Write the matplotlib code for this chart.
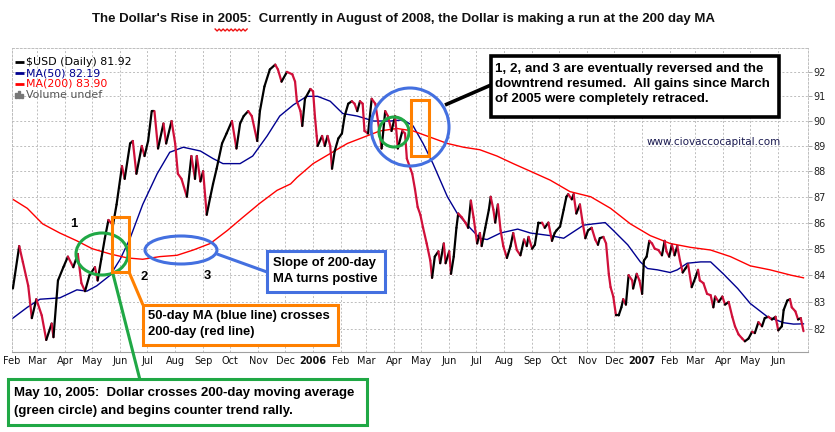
import matplotlib
matplotlib.use("Agg")
import numpy as np
import pandas as pd
import matplotlib.pyplot as plt
import matplotlib.dates as mdates
from matplotlib.collections import LineCollection
from matplotlib.patches import Ellipse, Rectangle
from matplotlib.lines import Line2D
from matplotlib.ticker import FixedLocator, NullLocator, FormatStrFormatter

# $USD daily close
price_dates = [
    "2005-02-02", "2005-02-09", "2005-02-13", "2005-02-19", "2005-02-23", "2005-02-28",
    "2005-03-06", "2005-03-11", "2005-03-17", "2005-03-19", "2005-03-24", "2005-03-30",
    "2005-04-04", "2005-04-10", "2005-04-15", "2005-04-19", "2005-04-23", "2005-04-28",
    "2005-05-04", "2005-05-07", "2005-05-11", "2005-05-15", "2005-05-19", "2005-05-24",
    "2005-05-28", "2005-06-03", "2005-06-06", "2005-06-12", "2005-06-15", "2005-06-19",
    "2005-06-25", "2005-06-28", "2005-07-02", "2005-07-06", "2005-07-09", "2005-07-13",
    "2005-07-19", "2005-07-22", "2005-07-28", "2005-08-01", "2005-08-04", "2005-08-08",
    "2005-08-14", "2005-08-19", "2005-08-23", "2005-08-25", "2005-08-29", "2005-09-01",
    "2005-09-05", "2005-09-09", "2005-09-12", "2005-09-16", "2005-09-22", "2005-09-27",
    "2005-10-03", "2005-10-08", "2005-10-12", "2005-10-16", "2005-10-21", "2005-10-25",
    "2005-10-31", "2005-11-03", "2005-11-08", "2005-11-14", "2005-11-20", "2005-11-23",
    "2005-11-27", "2005-12-03", "2005-12-09", "2005-12-12", "2005-12-14", "2005-12-18",
    "2005-12-20", "2005-12-23", "2005-12-29", "2006-01-01", "2006-01-03", "2006-01-05",
    "2006-01-06", "2006-01-11", "2006-01-14", "2006-01-17", "2006-01-20", "2006-01-22",
    "2006-01-25", "2006-01-29", "2006-02-02", "2006-02-05", "2006-02-09", "2006-02-13",
    "2006-02-16", "2006-02-19", "2006-02-22", "2006-02-25", "2006-02-27", "2006-03-03",
    "2006-03-07", "2006-03-11", "2006-03-14", "2006-03-18", "2006-03-22", "2006-03-25",
    "2006-03-29", "2006-04-02", "2006-04-05", "2006-04-10", "2006-04-13", "2006-04-15",
    "2006-04-21", "2006-04-24", "2006-04-27", "2006-04-30", "2006-05-03", "2006-05-07",
    "2006-05-11", "2006-05-13", "2006-05-16", "2006-05-20", "2006-05-22", "2006-05-26",
    "2006-05-28", "2006-06-01", "2006-06-03", "2006-06-06", "2006-06-09", "2006-06-11",
    "2006-06-15", "2006-06-19", "2006-06-22", "2006-06-25", "2006-06-28", "2006-07-02",
    "2006-07-05", "2006-07-07", "2006-07-11", "2006-07-15", "2006-07-17", "2006-07-20",
    "2006-07-22", "2006-07-25", "2006-07-28", "2006-07-31", "2006-08-04", "2006-08-08",
    "2006-08-11", "2006-08-15", "2006-08-19", "2006-08-23", "2006-08-26", "2006-08-28",
    "2006-09-01", "2006-09-04", "2006-09-08", "2006-09-12", "2006-09-15", "2006-09-19",
    "2006-09-23", "2006-09-26", "2006-09-28", "2006-10-02", "2006-10-06", "2006-10-09",
    "2006-10-11", "2006-10-15", "2006-10-17", "2006-10-20", "2006-10-24", "2006-10-27",
    "2006-10-30", "2006-11-02", "2006-11-06", "2006-11-10", "2006-11-13", "2006-11-15",
    "2006-11-19", "2006-11-22", "2006-11-25", "2006-11-27", "2006-11-30", "2006-12-03",
    "2006-12-06", "2006-12-09", "2006-12-11", "2006-12-14", "2006-12-17", "2006-12-21",
    "2006-12-22", "2006-12-26", "2006-12-29", "2007-01-01", "2007-01-03", "2007-01-06",
    "2007-01-09", "2007-01-12", "2007-01-15", "2007-01-19", "2007-01-23", "2007-01-26",
    "2007-01-28", "2007-01-31", "2007-02-03", "2007-02-06", "2007-02-09", "2007-02-12",
    "2007-02-15", "2007-02-18", "2007-02-21", "2007-02-25", "2007-03-01", "2007-03-04",
    "2007-03-06", "2007-03-10", "2007-03-14", "2007-03-18", "2007-03-21", "2007-03-23",
    "2007-03-27", "2007-03-31", "2007-04-03", "2007-04-07", "2007-04-11", "2007-04-14",
    "2007-04-18", "2007-04-22", "2007-04-25", "2007-04-29", "2007-05-03", "2007-05-06",
    "2007-05-10", "2007-05-14", "2007-05-17", "2007-05-21", "2007-05-25", "2007-05-29",
    "2007-06-01", "2007-06-05", "2007-06-07", "2007-06-11", "2007-06-14", "2007-06-16",
    "2007-06-20", "2007-06-23", "2007-06-26", "2007-06-29",
]
price_vals = [
    83.5, 85.1, 84.5, 83.6, 82.4, 83.1,
    82.5, 81.6, 82.2, 81.7, 83.8, 84.3,
    84.7, 84.3, 84.8, 83.7, 83.4, 84.0,
    84.3, 83.8, 84.6, 85.4, 86.1, 85.9,
    86.7, 88.2, 87.7, 89.1, 89.2, 87.9,
    89.0, 88.6, 89.2, 90.4, 90.4, 88.9,
    89.9, 89.1, 90.0, 89.1, 87.9, 87.7,
    87.0, 88.6, 87.7, 88.6, 87.6, 88.0,
    86.3, 87.0, 87.5, 88.1, 89.1, 89.5,
    90.0, 88.9, 89.9, 90.2, 90.4, 90.2,
    89.2, 90.4, 91.4, 92.1, 92.3, 92.1,
    91.6, 92.0, 91.9, 91.6, 90.8, 90.4,
    89.8, 90.9, 91.3, 91.2, 90.2, 89.4,
    89.0, 89.4, 89.0, 89.4, 89.0, 88.1,
    88.8, 89.3, 89.5, 90.2, 90.7, 90.8,
    90.7, 90.4, 90.8, 90.7, 89.6, 89.5,
    90.9, 90.7, 90.0, 88.9, 90.4, 90.2,
    89.6, 90.2, 88.9, 89.6, 89.5, 88.5,
    87.9, 87.3, 86.6, 86.3, 85.8, 85.2,
    84.55, 83.9, 84.7, 84.9, 84.45, 85.2,
    84.45, 84.9, 84.05, 84.7, 85.8, 86.35,
    86.2, 86.0, 85.8, 86.85, 86.2, 85.2,
    85.6, 85.1, 85.8, 86.5, 87.0, 86.5,
    86.0, 86.7, 85.7, 85.1, 84.65, 85.1,
    85.6, 84.95, 84.75, 85.35, 85.1, 85.45,
    85.0, 85.15, 86.0, 86.0, 85.8, 86.0,
    85.3, 85.6, 85.7, 85.85, 86.5, 87.0,
    87.1, 86.9, 87.1, 86.35, 86.7, 86.0,
    85.4, 85.7, 85.8, 85.35, 85.15, 85.4,
    85.45, 85.2, 84.05, 83.55, 83.2, 82.5,
    82.5, 82.8, 83.1, 82.9, 84.0, 83.8,
    83.5, 84.05, 83.8, 83.3, 84.55, 84.7,
    85.3, 85.2, 85.0, 84.95, 84.75, 85.3,
    84.9, 84.7, 85.15, 84.75, 85.1, 84.55,
    84.1, 84.25, 84.4, 83.55, 83.9, 84.2,
    83.8, 83.7, 83.3, 83.25, 82.8, 83.2,
    83.0, 83.2, 82.9, 83.0, 82.45, 82.1,
    81.8, 81.65, 81.55, 81.65, 81.9, 81.85,
    82.25, 82.1, 82.4, 82.45, 82.35, 82.45,
    81.95, 82.1, 82.7, 83.05, 83.1, 82.8,
    82.65, 82.35, 82.4, 81.92,
]

ma50_dates = [
    "2005-02-02", "2005-02-18", "2005-03-04", "2005-03-26", "2005-04-14", "2005-04-25",
    "2005-05-06", "2005-05-21", "2005-06-01", "2005-06-12", "2005-06-26", "2005-07-12",
    "2005-07-26", "2005-08-10", "2005-08-29", "2005-09-12", "2005-09-23", "2005-10-12",
    "2005-10-26", "2005-11-11", "2005-11-25", "2005-12-10", "2005-12-25", "2006-01-06",
    "2006-01-20", "2006-02-03", "2006-02-19", "2006-03-09", "2006-03-28", "2006-04-11",
    "2006-04-22", "2006-05-03", "2006-05-14", "2006-05-30", "2006-06-10", "2006-06-24",
    "2006-07-05", "2006-07-13", "2006-07-28", "2006-08-16", "2006-08-30", "2006-09-21",
    "2006-10-06", "2006-10-17", "2006-10-28", "2006-11-08", "2006-11-21", "2006-11-30",
    "2006-12-16", "2006-12-30", "2007-01-07", "2007-01-18", "2007-02-01", "2007-02-09",
    "2007-02-20", "2007-03-07", "2007-03-18", "2007-04-01", "2007-04-17", "2007-05-01",
    "2007-05-20", "2007-06-07", "2007-06-18", "2007-06-29",
]
ma50_vals = [
    82.4, 82.8, 83.1, 83.15, 83.45, 83.4,
    83.6, 84.0, 84.6, 85.4, 86.7, 87.9,
    88.75, 88.95, 88.8, 88.5, 88.3, 88.3,
    88.6, 89.4, 90.2, 90.65, 91.0, 91.0,
    90.8, 90.3, 90.2, 90.0, 90.0, 90.05,
    89.8, 89.1, 88.3, 87.0, 86.35, 85.8,
    85.4, 85.35, 85.6, 85.75, 85.6, 85.5,
    85.4, 85.65, 85.9, 85.95, 86.0, 85.7,
    85.15, 84.5, 84.25, 84.2, 84.1, 84.2,
    84.45, 84.5, 84.5, 84.05, 83.5, 82.94,
    82.45, 82.23, 82.18, 82.19,
]

ma200_dates = [
    "2005-02-02", "2005-02-18", "2005-03-07", "2005-03-26", "2005-04-14", "2005-05-01",
    "2005-05-21", "2005-06-09", "2005-06-26", "2005-07-15", "2005-08-03", "2005-08-21",
    "2005-09-09", "2005-09-28", "2005-10-15", "2005-11-03", "2005-11-22", "2005-12-07",
    "2005-12-14", "2006-01-01", "2006-01-20", "2006-02-08", "2006-02-26", "2006-03-16",
    "2006-04-04", "2006-04-22", "2006-05-11", "2006-05-30", "2006-06-17", "2006-07-05",
    "2006-07-24", "2006-08-11", "2006-08-30", "2006-09-21", "2006-10-13", "2006-11-05",
    "2006-11-27", "2006-12-19", "2007-01-10", "2007-02-01", "2007-02-24", "2007-03-18",
    "2007-04-09", "2007-05-01", "2007-05-23", "2007-06-15", "2007-06-29",
]
ma200_vals = [
    86.9, 86.55, 85.95, 85.6, 85.3, 85.0,
    84.8, 84.65, 84.6, 84.7, 84.75, 84.95,
    85.2, 85.7, 86.2, 86.75, 87.25, 87.5,
    87.75, 88.3, 88.7, 89.1, 89.35, 89.6,
    89.7, 89.6, 89.35, 89.1, 88.95, 88.85,
    88.6, 88.3, 88.0, 87.65, 87.2, 87.0,
    86.55, 85.95, 85.5, 85.2, 85.05, 84.95,
    84.7, 84.35, 84.2, 84.0, 83.9,
]

y_ticks = list(range(82, 93))

title = ("The Dollar's Rise in 2005:  Currently in August of 2008, "
         "the Dollar is making a run at the 200 day MA")

W, H = 835, 432
UP, DOWN = "black", "#d0103a"
BLUE_NOTE, GREEN_NOTE, ORANGE_NOTE = "#4470e0", "#20a845", "#ff8000"
NOTE_FONT = "Liberation Sans"
NOTE_SIZE = 9.4

fig = plt.figure(figsize=(W / 100, H / 100), dpi=100)
ax = fig.add_axes([12 / W, 1 - 352 / H, 796 / W, 304 / H])
ax.set_yscale("log")

# price line, black on up days and red on down days
px_dates = mdates.date2num(pd.to_datetime(price_dates))
pts = np.column_stack([px_dates, price_vals])
segs = np.stack([pts[:-1], pts[1:]], axis=1)
seg_colors = [UP if b >= a else DOWN for a, b in zip(price_vals[:-1], price_vals[1:])]
ax.add_collection(LineCollection(segs, colors=seg_colors, linewidths=1.6,
                                 capstyle="round", joinstyle="round", zorder=3))

ax.plot(pd.to_datetime(ma50_dates), ma50_vals, color="#000090", lw=1.0, zorder=2)
ax.plot(pd.to_datetime(ma200_dates), ma200_vals, color="#ff0000", lw=1.0, zorder=2)

ax.set_xlim(pd.Timestamp("2005-02-01"), pd.Timestamp("2007-07-04"))
ax.set_ylim(81.16, 92.99)

# y axis on the right
ax.yaxis.tick_right()
ax.yaxis.set_major_locator(FixedLocator(y_ticks))
ax.yaxis.set_major_formatter(FormatStrFormatter("%d"))
ax.yaxis.set_minor_locator(NullLocator())
ax.tick_params(axis="y", length=3, width=0.6, color="#999999", pad=1,
               labelsize=7, labelcolor="#222222")

# monthly x ticks, January shows the year in bold
months = pd.date_range("2005-02-01", "2007-06-01", freq="MS")
ax.set_xticks(months)
ax.set_xticklabels([m.strftime("%Y") if m.month == 1 else m.strftime("%b") for m in months])
for m, lab in zip(months, ax.get_xticklabels()):
    if m.month == 1:
        lab.set_fontweight("bold")
        lab.set_fontsize(7.5)
ax.xaxis.set_minor_locator(NullLocator())
ax.tick_params(axis="x", length=0, pad=3, labelsize=7, labelcolor="#111111")

ax.grid(True, color="#bdbdbd", linestyle=(0, (2, 2)), linewidth=0.7)
ax.set_axisbelow(True)
for side in ["left", "top", "right"]:
    ax.spines[side].set_color("#bdbdbd")
    ax.spines[side].set_linestyle((0, (2, 2)))
    ax.spines[side].set_linewidth(0.7)
ax.spines["bottom"].set_color("#a0a0a0")
ax.spines["bottom"].set_linewidth(0.8)


def fx(x):
    return x / W


def fy(y):
    return 1 - y / H


def note_text(x, y, s, size=NOTE_SIZE, weight="bold", color="black", ha="left",
              family=NOTE_FONT):
    fig.text(fx(x), fy(y), s, fontsize=size, fontweight=weight, color=color,
             ha=ha, va="center", family=family, zorder=7)


def box(x0, y0, x1, y1, ec, lw=2.2, fill=True):
    fig.add_artist(Rectangle((fx(x0), fy(y1)), (x1 - x0) / W, (y1 - y0) / H,
                             transform=fig.transFigure, facecolor="white" if fill else "none",
                             edgecolor=ec, lw=lw, zorder=6 if fill else 5))


def ring(cx, cy, rx, ry, ec, lw=2.2):
    fig.add_artist(Ellipse((fx(cx), fy(cy)), 2 * rx / W, 2 * ry / H,
                           transform=fig.transFigure, fill=False, ec=ec, lw=lw, zorder=5))


def link(x0, y0, x1, y1, c, lw=2.2):
    fig.add_artist(Line2D([fx(x0), fx(x1)], [fy(y0), fy(y1)], transform=fig.transFigure,
                          color=c, lw=lw, zorder=5, solid_capstyle="butt"))


# legend block
legend_rows = [("$USD (Daily) 81.92", "black"), ("MA(50) 82.19", "#000090"),
               ("MA(200) 83.90", "#ff0000"), ("Volume undef", "#555555")]
for i, (lab, col) in enumerate(legend_rows):
    yy = 62 + 11 * i
    if i < 3:
        link(15, yy, 24, yy, col, lw=2.0)
    else:
        for k, hgt in enumerate([5, 7, 4]):
            fig.add_artist(Rectangle((fx(15 + 3 * k), fy(yy + 3)), 2 / W, hgt / H,
                                     transform=fig.transFigure, color="#777777", zorder=5))
    note_text(26, yy, lab, size=7.9, weight="normal", color=col, family="DejaVu Sans")

# title with red squiggle under 2005
t = fig.text(fx(403), fy(19), title, fontsize=9.5, fontweight="bold", ha="center",
             va="center", family=NOTE_FONT, color="#111111")
r = fig.canvas.get_renderer()
bb = t.get_window_extent(r)
pre = fig.text(0, 0, "The Dollar's Rise in ", fontsize=9.5, fontweight="bold",
               family=NOTE_FONT)
yr = fig.text(0, 0, "2005", fontsize=9.5, fontweight="bold", family=NOTE_FONT)
x_start = bb.x0 + pre.get_window_extent(r).width
x_end = x_start + yr.get_window_extent(r).width
pre.remove()
yr.remove()
zx = np.arange(x_start - 2, x_end + 2, 2.0)
zy = (H - 30) + np.where(np.arange(len(zx)) % 2 == 0, 1.0, -1.0)
fig.add_artist(Line2D(zx, zy, transform=None, color="#ee1111", lw=1.0))

# notes on the left
ring(102, 254, 26, 21, GREEN_NOTE)
box(112, 217, 129, 272, ORANGE_NOTE, fill=False)
ring(181, 250, 36, 14, BLUE_NOTE)
link(113, 274, 140, 380, GREEN_NOTE)
link(129, 272, 143, 305, ORANGE_NOTE)
link(217, 254, 267, 272, BLUE_NOTE)
note_text(74, 224, "1", ha="center")
note_text(144, 277, "2", ha="center")
note_text(207, 276, "3", ha="center")

box(267, 251, 385, 292, BLUE_NOTE)
note_text(273, 263, "Slope of 200-day")
note_text(273, 279, "MA turns postive")

box(143, 305, 338, 345, ORANGE_NOTE)
note_text(148, 316, "50-day MA (blue line) crosses")
note_text(148, 332, "200-day (red line)")

box(8, 379, 367, 425, GREEN_NOTE)
note_text(14, 393, "May 10, 2005:  Dollar crosses 200-day moving average", size=9.5)
note_text(14, 411, "(green circle) and begins counter trend rally.", size=9.5)

# notes at the 2006 top
ring(410, 127, 39, 39, BLUE_NOTE)
ring(394, 132, 15, 15, GREEN_NOTE)
box(411, 100, 429, 156, ORANGE_NOTE, fill=False)
link(445, 105, 491, 85, "black", lw=2.6)
box(491, 56, 779, 117, "black", lw=2.6)
note_text(495, 69, "1, 2, and 3 are eventually reversed and the", size=9.6)
note_text(495, 84, "downtrend resumed.  All gains since March", size=9.6)
note_text(495, 99, "of 2005 were completely retraced.", size=9.6)

note_text(647, 142, "www.ciovaccocapital.com", size=7.5, weight="normal",
          color="#1a1a50", family="DejaVu Sans")

fig.savefig("out.png", dpi=100)
